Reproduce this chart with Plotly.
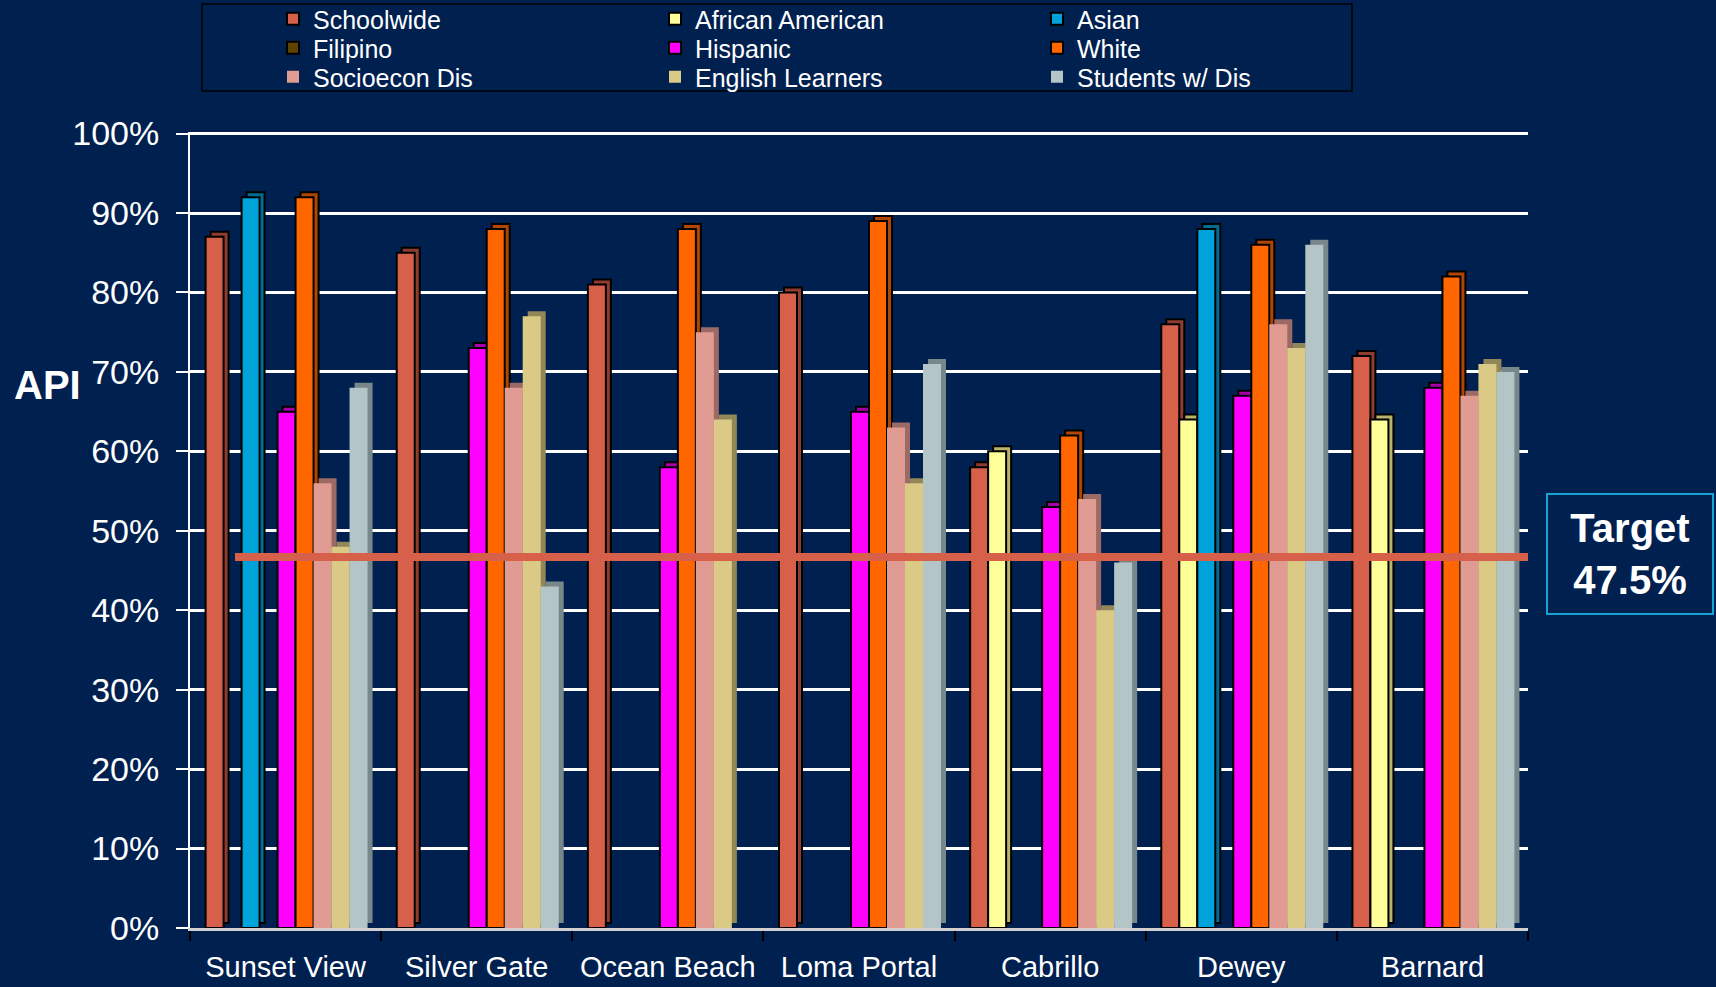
import plotly.graph_objects as go

# ---------------- data ----------------
schools = ["Sunset View", "Silver Gate", "Ocean Beach", "Loma Portal", "Cabrillo", "Dewey", "Barnard"]

schoolwide       = [87, 85, 81, 80, 58, 76, 72]
african_american = [None, None, None, None, 60, 64, 64]
asian            = [92, None, None, None, None, 88, None]
filipino         = [None, None, None, None, None, None, None]
hispanic         = [65, 73, 58, 65, 53, 67, 68]
white            = [92, 88, 88, 89, 62, 86, 82]
socioecon_dis    = [56, 68, 75, 63, 54, 76, 67]
english_learners = [48, 77, 64, 56, 40, 73, 71]
students_w_dis   = [68, 43, None, 71, 46, 86, 70]

series_names = ["Schoolwide", "African American", "Asian", "Filipino", "Hispanic",
                "White", "Socioecon Dis", "English Learners", "Students w/ Dis"]
series_values = [schoolwide, african_american, asian, filipino, hispanic,
                 white, socioecon_dis, english_learners, students_w_dis]

y_tick_vals = [0, 10, 20, 30, 40, 50, 60, 70, 80, 90, 100]
y_tick_text = ["0%", "10%", "20%", "30%", "40%", "50%", "60%", "70%", "80%", "90%", "100%"]
target_label = "Target<br>47.5%"
target_line_level = 46.7   # level at which the target line is drawn in the picture

# ---------------- styles ----------------
front_colors = ["#D6604A", "#FFFF99", "#00A3D9", "#5C4300", "#FF00FF",
                "#FF6600", "#E09B92", "#DACA86", "#B3C5C7"]
side_colors = ["#8E3D2E", "#B8B46A", "#006E94", "#3A2A00", "#A800A8",
               "#B04600", "#9C6A64", "#928759", "#78878A"]
outlined = [True, True, True, True, True, True, False, False, False]

BG = "#00204F"
FONT = "Liberation Sans, Arial, sans-serif"

W, H = 1716, 987
L, R, T, B = 190, 188, 132, 59
plot_w = W - L - R
plot_h = H - T - B
cat_px = plot_w / len(schools)
Y_MAX = 100.2
px_per_unit = plot_h / Y_MAX

bar_w = 18.0 / cat_px
group_start = -80.0 / cat_px
depth_x = 5.0 / cat_px
depth_y = 5.0 / px_per_unit

fig = go.Figure()

# depth (side/top) faces, drawn first so neighbours overlap them
for k, (name, vals) in enumerate(zip(series_names, series_values)):
    fig.add_trace(go.Bar(
        x=schools, y=vals, base=depth_y,
        offset=group_start + k * bar_w + depth_x, width=bar_w,
        marker=dict(color=side_colors[k],
                    line=dict(color="black", width=2 if outlined[k] else 0)),
        showlegend=False, hoverinfo="skip",
    ))

# front faces
for k, (name, vals) in enumerate(zip(series_names, series_values)):
    lg = "legend" if k // 3 == 0 else f"legend{k // 3 + 1}"
    fig.add_trace(go.Bar(
        x=schools, y=vals, name=name,
        offset=group_start + k * bar_w, width=bar_w,
        marker=dict(color=front_colors[k],
                    line=dict(color="black", width=2 if outlined[k] else 0)),
        legend=lg,
    ))

def py(pix):
    return (H - B - pix) / plot_h

def px(pix):
    return (pix - L) / plot_w

legend_common = dict(
    orientation="h", xanchor="left", yanchor="middle",
    x=px(273), entrywidth=337, entrywidthmode="pixels",
    font=dict(size=25, color="white", family=FONT),
    bgcolor="rgba(0,0,0,0)", borderwidth=0, traceorder="normal",
)

fig.update_layout(
    width=W, height=H,
    margin=dict(l=L, r=R, t=T, b=B, autoexpand=False),
    paper_bgcolor=BG, plot_bgcolor=BG,
    barmode="overlay",
    font=dict(family=FONT, color="white"),
    legend=dict(legend_common, y=py(19)),
    legend2=dict(legend_common, y=py(48)),
    legend3=dict(legend_common, y=py(77)),
    xaxis=dict(
        type="category", range=[-0.5, len(schools) - 0.5],
        tickson="boundaries", ticks="outside", ticklen=10, tickwidth=2, tickcolor="black",
        showline=True, linecolor="#D0D0D0", linewidth=3,
        showgrid=False, zeroline=False,
        tickfont=dict(size=29, color="white", family=FONT),
        ticklabelstandoff=11,
    ),
    yaxis=dict(
        range=[0, Y_MAX], tickvals=y_tick_vals, ticktext=y_tick_text,
        ticks="outside", ticklen=12, tickwidth=2, tickcolor="white",
        showline=True, linecolor="white", linewidth=2,
        showgrid=True, gridcolor="white", gridwidth=2.5, zeroline=False,
        tickfont=dict(size=34, color="white", family=FONT),
        ticklabelstandoff=10,
    ),
    shapes=[
        dict(type="rect", xref="paper", yref="paper",
             x0=px(202), x1=px(1352), y0=py(91), y1=py(4),
             line=dict(color="black", width=1.5), fillcolor="rgba(0,0,0,0)", layer="above"),
        dict(type="line", xref="paper", yref="y",
             x0=px(235), x1=1.0, y0=target_line_level, y1=target_line_level,
             line=dict(color="#D6604A", width=8), layer="above"),
    ],
    annotations=[
        dict(text="<b>API</b>", xref="paper", yref="paper", x=px(47), y=py(385),
             xanchor="center", yanchor="middle",
             showarrow=False, font=dict(size=40, color="white", family=FONT)),
        dict(text=f"<b>{target_label}</b>", xref="paper", yref="paper", x=px(1630), y=py(554),
             xanchor="center", yanchor="middle",
             showarrow=False, font=dict(size=40, color="white", family=FONT),
             width=160, height=114, borderpad=2,
             bordercolor="#18A0D0", borderwidth=2, bgcolor=BG),
    ],
)

fig.write_html(
    "out.html",
    config={"displayModeBar": False},
    post_script="document.body.style.margin='0';document.body.style.background='" + BG + "';",
)
